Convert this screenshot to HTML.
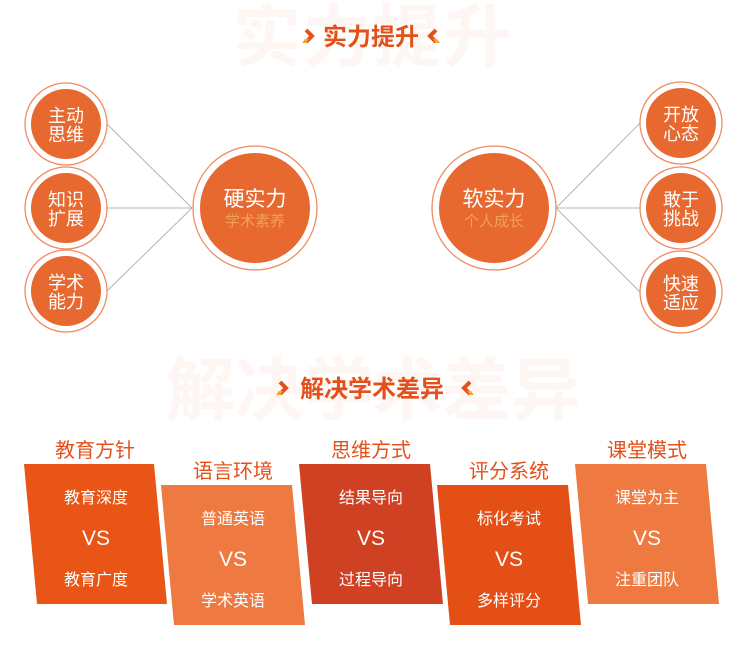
<!DOCTYPE html>
<html><head><meta charset="utf-8"><style>
html,body{margin:0;padding:0;background:#fff;width:741px;height:646px;overflow:hidden}
svg text{font-family:"Liberation Sans","Noto Sans CJK SC",sans-serif}
</style></head><body>
<svg width="741" height="646" viewBox="0 0 741 646" xmlns="http://www.w3.org/2000/svg">
<text x="373" y="61" font-size="68" font-weight="bold" fill="#fef6f2" text-anchor="middle" letter-spacing="2">实力提升</text>
<text x="373" y="414" font-size="69" font-weight="bold" fill="#fef6f2" text-anchor="middle">解决学术差异</text>
<g fill="none" stroke-width="4" stroke-linejoin="miter">
<polyline points="306,30 312,36 306,42" stroke="#e4501a"/>
<polyline points="436,30 430,36 436,42" stroke="#e4501a"/>
<polyline points="280,382 286,388 280,394" stroke="#e4501a"/>
<polyline points="470,382 464,388 470,394" stroke="#e4501a"/>
</g>
<g fill="#f6a623">
<polygon points="305,39 309,39 306,43 302,43"/><polygon points="437,39 433,39 436,43 440,43"/>
<polygon points="279,391 283,391 280,395 276,395"/><polygon points="471,391 467,391 470,395 474,395"/>
</g>
<text x="371" y="45" font-size="24" font-weight="bold" fill="#e4501a" text-anchor="middle">实力提升</text>
<text x="372" y="397" font-size="24" font-weight="bold" fill="#e4501a" text-anchor="middle">解决学术差异</text>
<g stroke="#b5b5b5" stroke-width="1">
<line x1="107" y1="124" x2="192" y2="208"/><line x1="107" y1="208" x2="192" y2="208"/><line x1="107" y1="291" x2="192" y2="208"/>
<line x1="556" y1="208" x2="640" y2="123"/><line x1="556" y1="208" x2="640" y2="208"/><line x1="556" y1="208" x2="640" y2="292"/>
</g>
<g fill="#fff" stroke="#ef8c62" stroke-width="1.3">
<circle cx="66" cy="124" r="41"/><circle cx="66" cy="208" r="41"/><circle cx="66" cy="291" r="41"/>
<circle cx="681" cy="123" r="41"/><circle cx="681" cy="208" r="41"/><circle cx="681" cy="292" r="41"/>
<circle cx="255" cy="208" r="62"/><circle cx="494" cy="208" r="62"/>
</g>
<g fill="#e8692f">
<circle cx="66" cy="124" r="35"/><circle cx="66" cy="208" r="35"/><circle cx="66" cy="291" r="35"/>
<circle cx="681" cy="123" r="35"/><circle cx="681" cy="208" r="35"/><circle cx="681" cy="292" r="35"/>
<circle cx="255" cy="208" r="55"/><circle cx="494" cy="208" r="55"/>
</g>
<g fill="#fff" font-size="18" text-anchor="middle">
<text x="66" y="122">主动</text><text x="66" y="141">思维</text>
<text x="66" y="206">知识</text><text x="66" y="225">扩展</text>
<text x="66" y="289">学术</text><text x="66" y="308">能力</text>
<text x="681" y="121">开放</text><text x="681" y="140">心态</text>
<text x="681" y="206">敢于</text><text x="681" y="225">挑战</text>
<text x="681" y="290">快速</text><text x="681" y="309">适应</text>
<text x="255" y="206" font-size="21">硬实力</text>
<text x="494" y="206" font-size="21">软实力</text>
</g>
<text x="255" y="226" font-size="15" fill="#f0a05a" text-anchor="middle">学术素养</text>
<text x="494" y="226" font-size="15" fill="#f0a05a" text-anchor="middle">个人成长</text>
<polygon points="24,464 154,464 167,604 37,604" fill="#e85516"/>
<polygon points="161,485 292,485 305,625 174,625" fill="#ee7941"/>
<polygon points="299,464 430,464 443,604 312,604" fill="#cf4122"/>
<polygon points="437,485 568,485 581,625 450,625" fill="#e44f16"/>
<polygon points="575,464 706,464 719,604 588,604" fill="#ee7941"/>
<g font-size="20" fill="#e4501a" text-anchor="middle">
<text x="95" y="457">教育方针</text><text x="233" y="478">语言环境</text><text x="371" y="457">思维方式</text><text x="509" y="478">评分系统</text><text x="647" y="457">课堂模式</text>
</g>
<g fill="#fff" text-anchor="middle" font-size="16">
<text x="96" y="503">教育深度</text><text x="96" y="545" font-size="21">VS</text><text x="96" y="585">教育广度</text>
<text x="233" y="524">普通英语</text><text x="233" y="566" font-size="21">VS</text><text x="233" y="606">学术英语</text>
<text x="371" y="503">结果导向</text><text x="371" y="545" font-size="21">VS</text><text x="371" y="585">过程导向</text>
<text x="509" y="524">标化考试</text><text x="509" y="566" font-size="21">VS</text><text x="509" y="606">多样评分</text>
<text x="647" y="503">课堂为主</text><text x="647" y="545" font-size="21">VS</text><text x="647" y="585">注重团队</text>
</g>
</svg>
</body></html>
